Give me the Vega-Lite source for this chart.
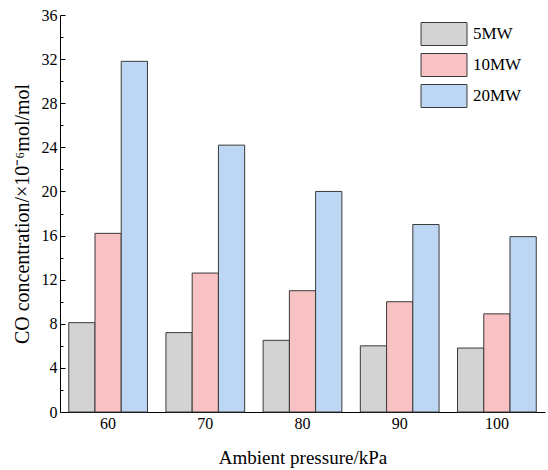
{
  "$schema": "https://vega.github.io/schema/vega-lite/v6.json",
  "autosize": "none",
  "width": 485,
  "height": 397,
  "padding": {"left": 60, "top": 15, "right": 3, "bottom": 58},
  "background": "white",
  "config": {
    "font": "Liberation Serif",
    "view": {"stroke": null}
  },
  "data": {
    "values": [
      {"pressure": "60", "power": "5MW", "co": 8.1},
      {"pressure": "60", "power": "10MW", "co": 16.2},
      {"pressure": "60", "power": "20MW", "co": 31.8},
      {"pressure": "70", "power": "5MW", "co": 7.2},
      {"pressure": "70", "power": "10MW", "co": 12.6},
      {"pressure": "70", "power": "20MW", "co": 24.2},
      {"pressure": "80", "power": "5MW", "co": 6.5},
      {"pressure": "80", "power": "10MW", "co": 11.0},
      {"pressure": "80", "power": "20MW", "co": 20.0},
      {"pressure": "90", "power": "5MW", "co": 6.0},
      {"pressure": "90", "power": "10MW", "co": 10.0},
      {"pressure": "90", "power": "20MW", "co": 17.0},
      {"pressure": "100", "power": "5MW", "co": 5.8},
      {"pressure": "100", "power": "10MW", "co": 8.9},
      {"pressure": "100", "power": "20MW", "co": 15.9}
    ]
  },
  "mark": {"type": "bar", "stroke": "#3a3a3a", "strokeWidth": 1},
  "encoding": {
    "x": {
      "field": "pressure",
      "type": "ordinal",
      "sort": ["60", "70", "80", "90", "100"],
      "scale": {"paddingInner": 0.19, "paddingOuter": 0.09},
      "axis": {
        "title": "Ambient pressure/kPa",
        "titleFont": "Liberation Serif",
        "titleFontSize": 19,
        "titleFontWeight": "normal",
        "titleColor": "black",
        "titlePadding": 17,
        "labelAngle": 0,
        "labelFont": "Liberation Serif",
        "labelFontSize": 16,
        "labelColor": "black",
        "labelPadding": 9,
        "tickSize": -6,
        "tickColor": "black",
        "domainColor": "black",
        "grid": false
      }
    },
    "xOffset": {
      "field": "power",
      "type": "nominal",
      "sort": ["5MW", "10MW", "20MW"],
      "scale": {"paddingInner": 0, "paddingOuter": 0}
    },
    "y": {
      "field": "co",
      "type": "quantitative",
      "scale": {"domain": [0, 36], "nice": false},
      "axis": {
        "title": "CO concentration/×10⁻⁶mol/mol",
        "titleFont": "Liberation Serif",
        "titleFontSize": 20,
        "titleFontWeight": "normal",
        "titleColor": "black",
        "titlePadding": 9,
        "values": [0, 2, 4, 6, 8, 10, 12, 14, 16, 18, 20, 22, 24, 26, 28, 30, 32, 34, 36],
        "labelExpr": "datum.value % 4 === 0 ? datum.label : ''",
        "labelFont": "Liberation Serif",
        "labelFontSize": 16,
        "labelColor": "black",
        "labelPadding": 8,
        "tickSize": {"condition": {"test": "datum.value % 4 === 0", "value": -5}, "value": -3},
        "tickColor": "black",
        "domainColor": "black",
        "grid": false
      }
    },
    "fill": {
      "field": "power",
      "type": "nominal",
      "sort": ["5MW", "10MW", "20MW"],
      "scale": {"domain": ["5MW", "10MW", "20MW"], "range": ["#d3d3d3", "#f8c1c3", "#bdd6f4"]},
      "legend": {
        "title": null,
        "orient": "none",
        "legendX": 372,
        "legendY": 7,
        "symbolType": "M-2,-1H2V1H-2Z",
        "symbolSize": 529,
        "symbolStrokeColor": "#3a3a3a",
        "symbolStrokeWidth": 1,
        "symbolOpacity": 1,
        "labelFont": "Liberation Serif",
        "labelFontSize": 17,
        "labelColor": "black",
        "labelOffset": 17,
        "rowPadding": 3
      }
    }
  }
}
